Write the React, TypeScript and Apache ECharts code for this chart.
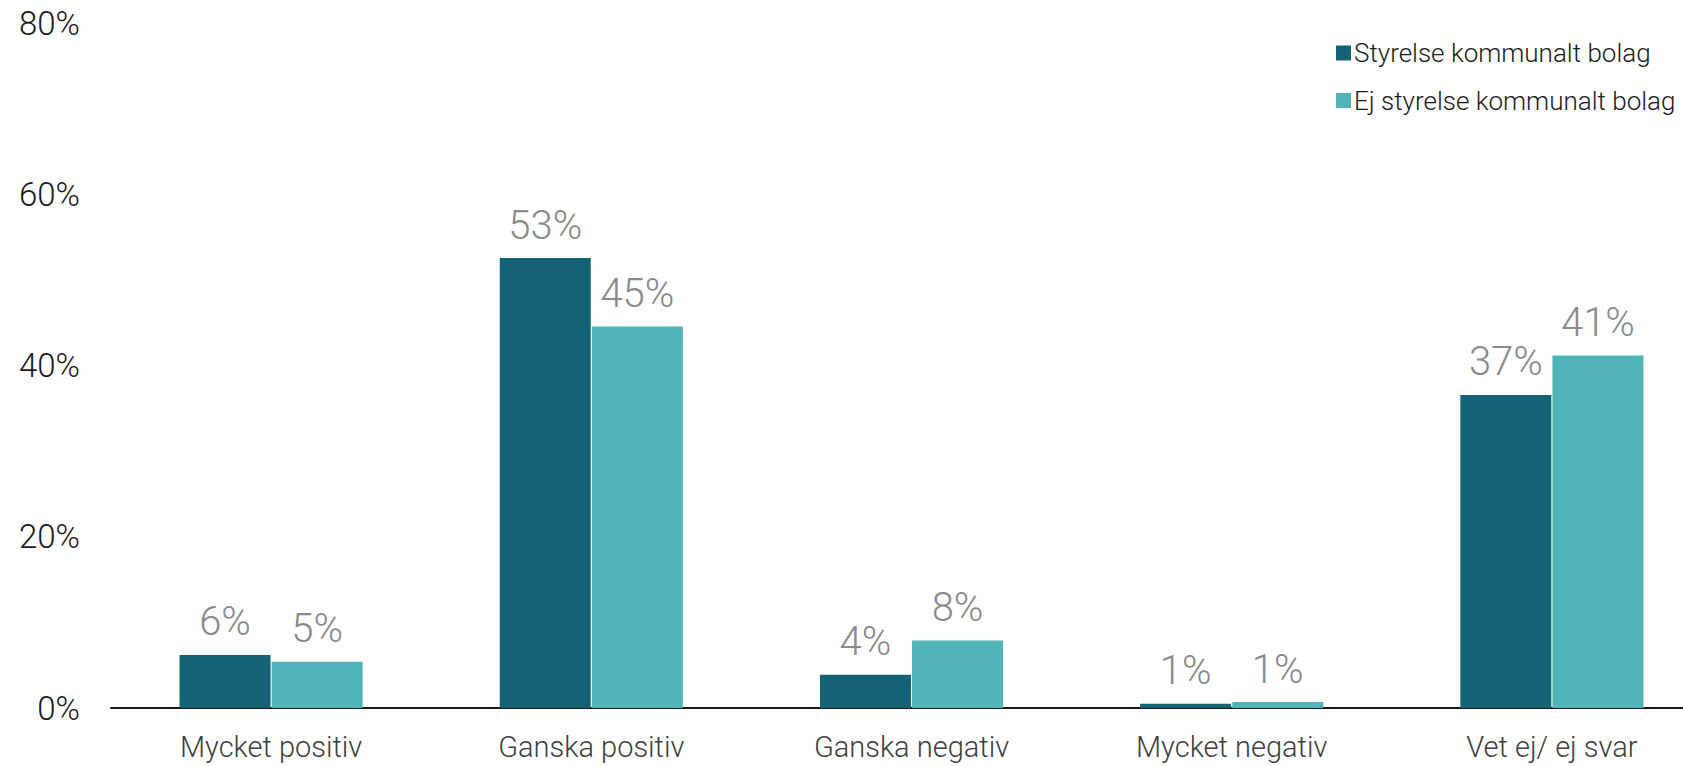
import React, { useEffect, useRef } from "react";
import * as echarts from "echarts";

const categories = ["Mycket positiv", "Ganska positiv", "Ganska negativ", "Mycket negativ", "Vet ej/ ej svar"];
const seriesNames = ["Styrelse kommunalt bolag", "Ej styrelse kommunalt bolag"];
const styrelse = [6.2, 52.6, 3.9, 0.5, 36.6];
const ejStyrelse = [5.4, 44.6, 7.9, 0.7, 41.2];
const yTicks = [0, 20, 40, 60, 80];

const FONT = "Roboto, 'Liberation Sans', Arial, sans-serif";

export default function App() {
  const ref = useRef<HTMLDivElement>(null);
  useEffect(() => {
    document.body.style.margin = "0";
    document.body.style.overflow = "hidden";
    document.documentElement.style.overflow = "hidden";
    const chart = echarts.init(ref.current!, null, { renderer: "svg" });
    const label = {
      show: true,
      position: "top",
      distance: 13,
      color: "#8a8a8a",
      fontSize: 40,
      fontFamily: FONT,
      fontWeight: 300,
      formatter: (p: any) => Math.round(p.value) + "%",
    };
    chart.setOption({
      animation: false,
      textStyle: { fontFamily: FONT },
      grid: { left: 111, right: 0, top: 23.6, height: 684.4, containLabel: false },
      legend: {
        orient: "vertical",
        left: 1331,
        top: 33,
        itemWidth: 15,
        itemHeight: 15,
        itemGap: 17.5,
        icon: "rect",
        textStyle: { fontSize: 26, color: "#1a1a1a", fontFamily: FONT, fontWeight: 300, lineHeight: 30, padding: [0, 0, 0, -2] },
        data: seriesNames,
      },
      xAxis: {
        type: "category",
        data: categories,
        axisLine: { show: true, lineStyle: { color: "#1a1a1a", width: 2 } },
        axisTick: { show: false },
        axisLabel: { color: "#404040", fontSize: 29, fontFamily: FONT, fontWeight: 300, margin: 24 },
      },
      yAxis: {
        type: "value",
        min: yTicks[0],
        max: yTicks[yTicks.length - 1],
        interval: 20,
        splitLine: { show: false },
        axisLine: { show: false },
        axisTick: { show: false },
        axisLabel: {
          color: "#1a1a1a",
          fontSize: 33,
          fontFamily: FONT,
          fontWeight: 300,
          margin: 31,
          formatter: (v: number) => v + "%",
        },
      },
      series: [
        {
          name: seriesNames[0],
          type: "bar",
          data: styrelse,
          barWidth: 91,
          barGap: "1.2%",
          itemStyle: { color: "#136375" },
          label,
        },
        {
          name: seriesNames[1],
          type: "bar",
          data: ejStyrelse,
          barWidth: 91,
          itemStyle: { color: "#4fb5b9" },
          label,
        },
      ],
    });
    return () => chart.dispose();
  }, []);
  return <div ref={ref} style={{ width: 1712, height: 766 }} />;
}
